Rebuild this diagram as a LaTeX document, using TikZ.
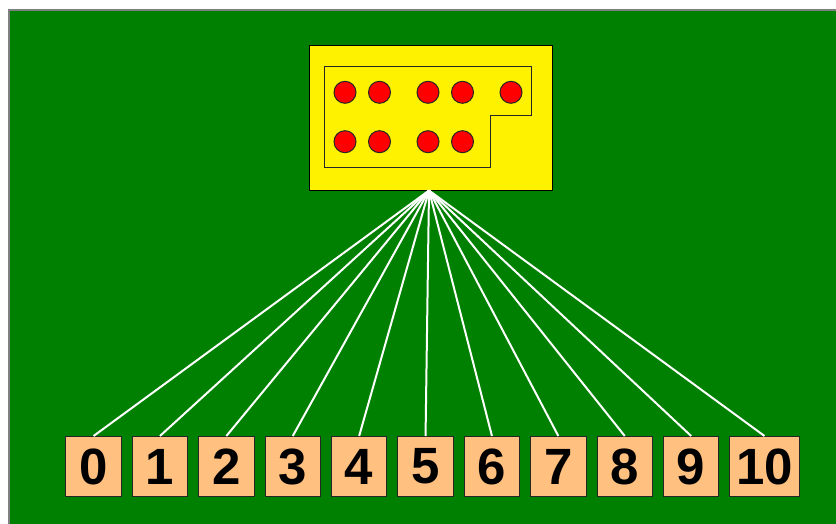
\documentclass[tikz,border=0pt]{standalone}
\usepackage{fontspec}
\setmainfont{Liberation Sans}
\definecolor{bggreen}{RGB}{0,128,0}
\definecolor{peach}{RGB}{255,192,128}
\definecolor{frame}{RGB}{128,128,128}
\begin{document}
\begin{tikzpicture}[x=1pt,y=-1pt,
  numbox/.style={draw=black!85,line width=1pt,fill=peach,minimum height=60pt,inner sep=0pt,
    font=\fontsize{51}{51}\selectfont\bfseries},
  dot/.style={circle,draw=black!85,line width=1pt,fill=red,minimum size=22pt,inner sep=0pt},
  link/.style={white,line width=2pt}]
\useasboundingbox (0,0) rectangle (836,524);
\fill[white] (0,0) rectangle (836,524);
\draw[frame,fill=bggreen,line width=2pt] (9,10) rectangle (840,530);
% yellow box
\node[draw=black,line width=1pt,fill=yellow,minimum width=243pt,minimum height=145pt,inner sep=0pt,anchor=north west] (top) at (309,45) {};
\draw[black!85,line width=1pt] (324,67) -- (531,67) -- (531,116) -- (490,116) -- (490,168) -- (324,168) -- cycle;
\foreach \i/\x in {1/345,2/379.5,3/428,4/462.5,5/511}{
  \node[dot] (a\i) at (\x,92.3) {};}
\foreach \i/\x in {1/345,2/379.5,3/428,4/462.5}{
  \node[dot] (b\i) at (\x,141.7) {};}
\coordinate (apex) at (429,190.5);
% number boxes
\foreach \n in {0,...,9}{
  \node[numbox,minimum width=55.5pt,anchor=north west] (n\n) at ({65.3+66.4*\n},436) {\n};}
\node[numbox,minimum width=70pt,anchor=north west] (n10) at (729,436) {10};
\foreach \n in {0,...,10}{
  \draw[link] (apex) -- (n\n.north);}
\end{tikzpicture}
\end{document}
